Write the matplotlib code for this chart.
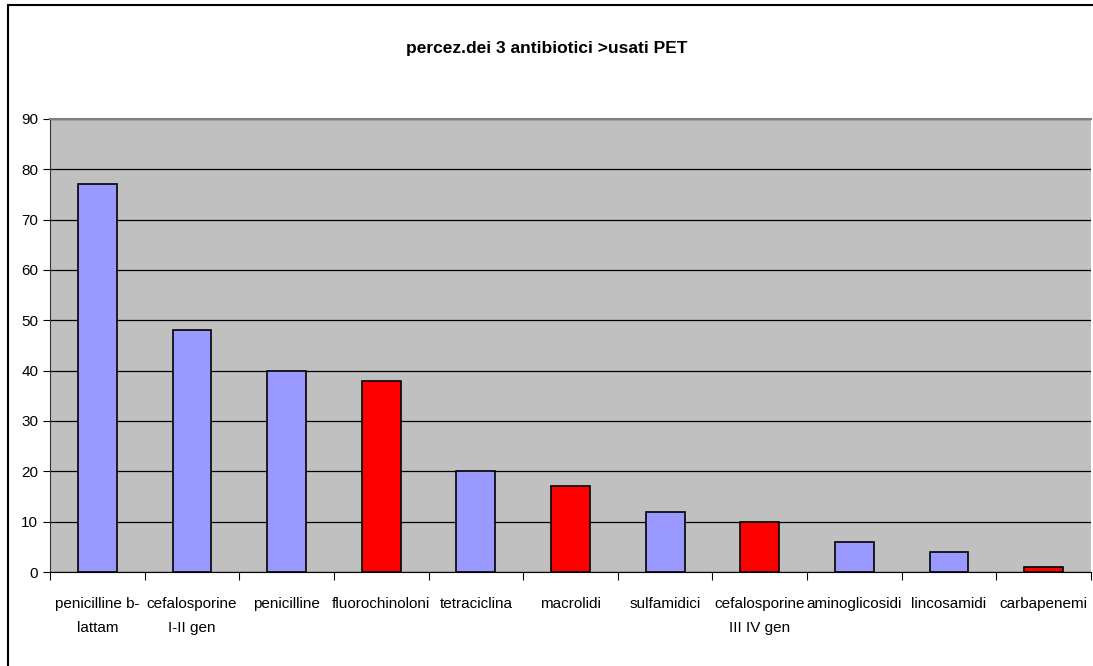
import matplotlib.pyplot as plt
import matplotlib.patches as mpatches
import numpy as np

categories = ["penicilline b-\nlattam", "cefalosporine\nI-II gen", "penicilline",
              "fluorochinoloni", "tetraciclina", "macrolidi", "sulfamidici",
              "cefalosporine\nIII IV gen", "aminoglicosidi", "lincosamidi", "carbapenemi"]
values = [77, 48, 40, 38, 20, 17, 12, 10, 6, 4, 1]
highlight = [False, False, False, True, False, True, False, True, False, False, True]

plt.rcParams['font.family'] = ['Liberation Sans Narrow', 'Liberation Sans', 'DejaVu Sans']

fig = plt.figure(figsize=(10.93, 6.66), dpi=100)
ax = fig.add_axes([50 / 1093, 1 - 572 / 666, (1091 - 50) / 1093, (572 - 119) / 666])

colors = ["#FF0000" if h else "#9999FF" for h in highlight]
x = np.arange(len(values))
ax.set_axisbelow(True)
ax.bar(x, values, width=0.41, color=colors, edgecolor="black", linewidth=1.2, zorder=3)

ax.set_facecolor("#C0C0C0")
ax.set_xlim(-0.5, len(values) - 0.5)
ax.set_ylim(0, 90)
ax.set_yticks(range(0, 91, 10))
ax.yaxis.grid(True, color="black", linewidth=0.9)
ax.spines["right"].set_visible(False)
ax.spines["top"].set_color("#808080")
ax.spines["top"].set_linewidth(1.5)
ax.spines["left"].set_color("#333333")

ax.set_xticks(np.arange(len(values) + 1) - 0.5)
ax.set_xticklabels([])
ax.set_xticks(x, minor=True)
ax.set_xticklabels(categories, minor=True, fontsize=11, linespacing=1.9, va="top")
ax.tick_params(axis="x", which="minor", length=0, pad=18)
ax.tick_params(axis="x", which="major", length=6, direction="out")
ax.tick_params(axis="y", length=5, direction="out", labelsize=11)

fig.text(0.5, 1 - 48 / 666, "percez.dei 3 antibiotici >usati PET", ha="center", va="center",
         fontsize=12.5, fontweight="bold")

fig.patches.append(mpatches.Rectangle((8 / 1093, -10 / 666), 1100 / 1093, 671 / 666,
                                      transform=fig.transFigure, fill=False,
                                      edgecolor="black", linewidth=1.5))

fig.savefig("out.png", dpi=100)
